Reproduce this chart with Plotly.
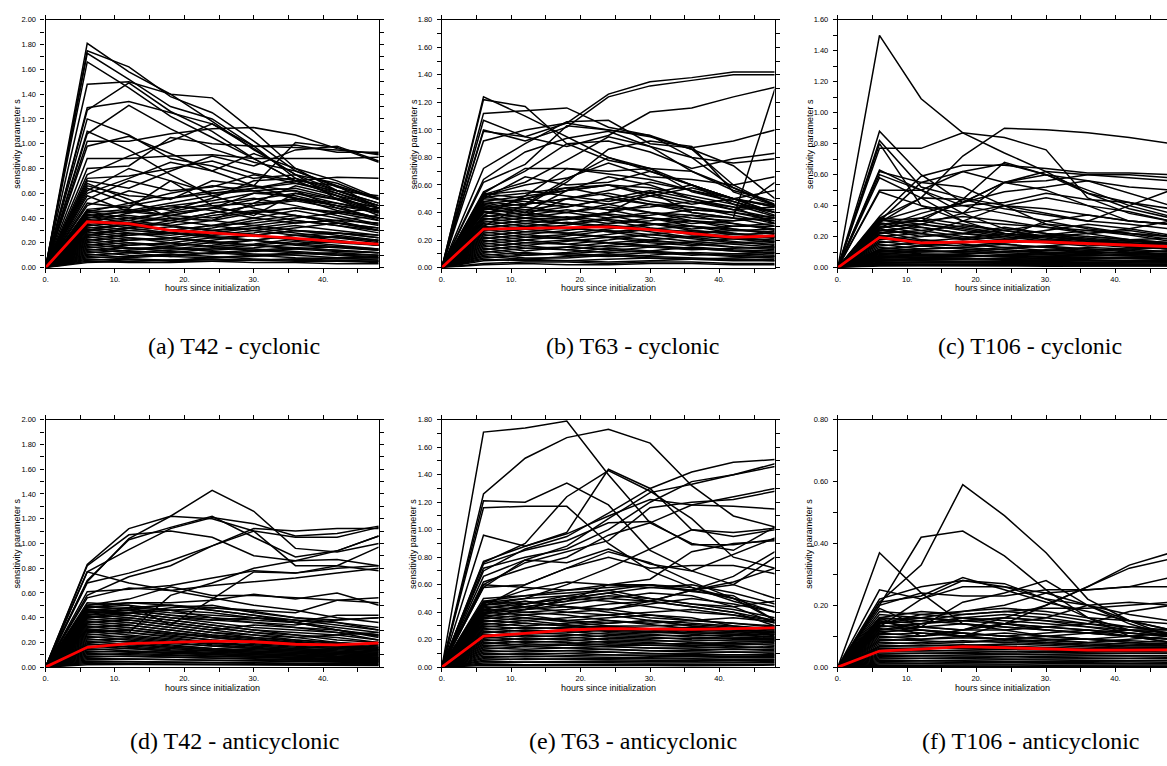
import plotly.graph_objects as go

# ---------------- data ----------------
HOURS = [0, 6, 12, 18, 24, 30, 36, 42, 48]
S_AT_INIT = 0.0
X_TICK_VALS = [0, 10, 20, 30, 40]
X_TICK_LABELS = ["0.", "10.", "20.", "30.", "40."]
CAPTIONS = ["(a) T42 - cyclonic", "(b) T63 - cyclonic", "(c) T106 - cyclonic",
            "(d) T42 - anticyclonic", "(e) T63 - anticyclonic", "(f) T106 - anticyclonic"]
X_TITLE = "hours since initialization"
Y_TITLE = "sensitivity parameter s"
Y_MAX = [2.0, 1.8, 1.6, 2.0, 1.8, 0.8]

# values at 6,12,...,48 h for each trajectory
T42_CYC = [
    [1.81, 1.58, 1.40, 1.37, 1.10, 0.80, 0.62, 0.52],
    [1.75, 1.62, 1.38, 1.25, 1.02, 0.78, 0.65, 0.55],
    [1.73, 1.52, 1.30, 1.20, 0.98, 0.72, 0.60, 0.48],
    [1.66, 1.45, 1.22, 1.05, 0.88, 0.70, 0.58, 0.45],
    [1.48, 1.50, 1.40, 1.18, 0.95, 0.75, 0.55, 0.42],
    [1.29, 1.34, 1.25, 1.16, 0.98, 0.97, 0.95, 0.92],
    [1.27, 1.49, 1.26, 1.10, 0.88, 0.70, 0.58, 0.50],
    [1.20, 1.07, 0.88, 0.82, 0.72, 0.75, 0.68, 0.55],
    [1.10, 0.95, 0.75, 0.58, 0.48, 0.42, 0.36, 0.30],
    [1.08, 1.31, 1.12, 0.96, 0.85, 0.78, 0.66, 0.56],
    [1.02, 1.02, 1.08, 1.12, 1.13, 1.07, 0.96, 0.91],
    [0.98, 1.06, 0.92, 0.78, 0.66, 0.56, 0.46, 0.40],
    [0.88, 0.88, 0.90, 0.91, 0.88, 0.88, 0.88, 0.89],
    [0.80, 0.82, 1.05, 1.00, 0.98, 0.99, 0.93, 0.93],
    [0.75, 0.90, 1.02, 1.16, 0.96, 0.75, 0.62, 0.50],
    [0.72, 0.74, 0.80, 0.86, 0.76, 0.70, 0.73, 0.72],
    [0.70, 0.64, 0.78, 0.90, 0.82, 0.95, 0.98, 0.86],
    [0.66, 0.58, 0.56, 0.62, 0.66, 1.01, 0.97, 0.85],
    [0.64, 0.52, 0.46, 0.56, 0.70, 0.72, 0.62, 0.52],
    [0.60, 0.72, 0.85, 0.78, 0.92, 0.80, 0.70, 0.56],
    [0.55, 0.70, 0.62, 0.65, 0.75, 0.68, 0.62, 0.58],
    [0.52, 0.48, 0.70, 0.60, 0.64, 0.70, 0.66, 0.48],
    [0.50, 0.62, 0.55, 0.70, 0.66, 0.62, 0.48, 0.40],
    [0.62, 0.80, 0.70, 0.50, 0.42, 0.60, 0.55, 0.45],
    [0.68, 0.55, 0.40, 0.38, 0.52, 0.66, 0.58, 0.44],
    [0.58, 0.45, 0.42, 0.48, 0.60, 0.58, 0.50, 0.38],
    [0.46, 0.44, 0.48, 0.50, 0.52, 0.55, 0.50, 0.44],
    [0.45, 0.40, 0.38, 0.44, 0.50, 0.56, 0.52, 0.46],
    [0.44, 0.47, 0.42, 0.40, 0.45, 0.48, 0.44, 0.38],
    [0.43, 0.38, 0.45, 0.52, 0.56, 0.50, 0.42, 0.35],
    [0.42, 0.45, 0.50, 0.46, 0.40, 0.36, 0.38, 0.42],
    [0.41, 0.36, 0.34, 0.38, 0.44, 0.48, 0.45, 0.40],
    [0.40, 0.42, 0.38, 0.34, 0.36, 0.40, 0.44, 0.48],
    [0.39, 0.34, 0.30, 0.34, 0.40, 0.46, 0.40, 0.34],
    [0.38, 0.40, 0.44, 0.48, 0.44, 0.38, 0.34, 0.30],
    [0.37, 0.32, 0.36, 0.42, 0.46, 0.42, 0.36, 0.32],
    [0.36, 0.38, 0.34, 0.30, 0.32, 0.36, 0.38, 0.36],
    [0.35, 0.30, 0.28, 0.32, 0.38, 0.42, 0.38, 0.30],
    [0.34, 0.36, 0.40, 0.38, 0.34, 0.30, 0.28, 0.26],
    [0.33, 0.28, 0.26, 0.30, 0.34, 0.38, 0.34, 0.28],
    [0.32, 0.34, 0.30, 0.26, 0.28, 0.32, 0.36, 0.32],
    [0.31, 0.26, 0.30, 0.34, 0.30, 0.26, 0.24, 0.22],
    [0.30, 0.32, 0.28, 0.24, 0.26, 0.30, 0.28, 0.24],
    [0.29, 0.24, 0.22, 0.26, 0.30, 0.34, 0.30, 0.26],
    [0.28, 0.30, 0.33, 0.30, 0.26, 0.22, 0.20, 0.18],
    [0.27, 0.22, 0.24, 0.28, 0.32, 0.28, 0.24, 0.20],
    [0.26, 0.28, 0.24, 0.20, 0.22, 0.26, 0.28, 0.24],
    [0.25, 0.20, 0.18, 0.22, 0.26, 0.30, 0.26, 0.22],
    [0.24, 0.26, 0.28, 0.25, 0.22, 0.19, 0.17, 0.15],
    [0.23, 0.18, 0.20, 0.24, 0.22, 0.18, 0.16, 0.14],
    [0.22, 0.24, 0.20, 0.17, 0.19, 0.23, 0.25, 0.21],
    [0.21, 0.16, 0.15, 0.18, 0.22, 0.26, 0.22, 0.18],
    [0.20, 0.22, 0.24, 0.21, 0.18, 0.16, 0.14, 0.12],
    [0.19, 0.15, 0.17, 0.20, 0.18, 0.15, 0.13, 0.12],
    [0.18, 0.20, 0.16, 0.14, 0.16, 0.19, 0.21, 0.18],
    [0.17, 0.13, 0.12, 0.15, 0.18, 0.21, 0.18, 0.15],
    [0.16, 0.18, 0.20, 0.17, 0.15, 0.13, 0.11, 0.10],
    [0.15, 0.12, 0.14, 0.16, 0.14, 0.12, 0.10, 0.09],
    [0.14, 0.16, 0.13, 0.11, 0.13, 0.15, 0.17, 0.14],
    [0.13, 0.10, 0.09, 0.12, 0.14, 0.16, 0.14, 0.12],
    [0.12, 0.14, 0.16, 0.13, 0.11, 0.10, 0.08, 0.08],
    [0.11, 0.08, 0.10, 0.12, 0.10, 0.08, 0.07, 0.07],
    [0.10, 0.12, 0.09, 0.08, 0.09, 0.11, 0.12, 0.10],
    [0.09, 0.07, 0.06, 0.08, 0.10, 0.12, 0.10, 0.08],
    [0.08, 0.09, 0.11, 0.09, 0.07, 0.06, 0.05, 0.05],
    [0.07, 0.05, 0.06, 0.07, 0.06, 0.05, 0.05, 0.04],
    [0.06, 0.07, 0.05, 0.05, 0.06, 0.07, 0.08, 0.06],
    [0.05, 0.04, 0.04, 0.05, 0.06, 0.07, 0.06, 0.05],
    [0.04, 0.05, 0.06, 0.05, 0.04, 0.04, 0.03, 0.03],
    [0.47, 0.50, 0.56, 0.60, 0.62, 0.64, 0.56, 0.48],
    [0.45, 0.52, 0.60, 0.66, 0.62, 0.56, 0.50, 0.46],
    [0.40, 0.46, 0.52, 0.58, 0.64, 0.68, 0.60, 0.50],
    [0.36, 0.44, 0.50, 0.54, 0.60, 0.62, 0.55, 0.48],
    [0.30, 0.36, 0.42, 0.48, 0.55, 0.60, 0.52, 0.45],
    [0.26, 0.32, 0.38, 0.44, 0.50, 0.54, 0.48, 0.40],
]
T42_CYC_MEAN = [0.37, 0.355, 0.30, 0.28, 0.26, 0.235, 0.21, 0.19]

T63_CYC = [
    [1.24, 1.10, 0.95, 0.80, 0.70, 0.60, 0.50, 0.45],
    [1.22, 1.17, 0.90, 0.78, 0.72, 0.55, 0.48, 0.40],
    [1.12, 1.14, 1.16, 1.02, 0.96, 0.86, 0.60, 0.45],
    [1.07, 0.95, 1.05, 1.26, 1.35, 1.38, 1.42, 1.42],
    [1.00, 0.92, 1.02, 1.24, 1.32, 1.36, 1.40, 1.40],
    [0.99, 0.95, 0.88, 0.96, 1.13, 1.16, 1.24, 1.31],
    [0.92, 1.00, 1.05, 1.00, 0.95, 0.86, 0.74, 0.50],
    [0.72, 0.90, 1.06, 1.07, 0.90, 0.87, 0.92, 1.00],
    [0.64, 0.84, 0.94, 0.99, 0.88, 0.80, 0.76, 0.79],
    [0.62, 0.75, 1.03, 1.00, 0.96, 0.80, 0.58, 0.45],
    [0.55, 0.70, 0.90, 0.92, 0.84, 0.72, 0.79, 0.83],
    [0.54, 0.72, 0.72, 0.70, 0.72, 0.70, 0.58, 0.46],
    [0.53, 0.62, 0.78, 0.95, 0.88, 0.70, 0.56, 0.48],
    [0.52, 0.60, 0.65, 0.76, 0.66, 0.64, 0.60, 0.66],
    [0.50, 0.66, 0.60, 0.62, 0.70, 0.60, 0.46, 0.37],
    [0.48, 0.45, 0.62, 0.86, 0.92, 0.88, 0.55, 0.45],
    [0.46, 0.40, 0.56, 0.66, 0.60, 0.50, 0.44, 0.32],
    [0.44, 0.38, 0.50, 0.54, 0.48, 0.44, 0.40, 0.62],
    [0.40, 0.36, 0.35, 0.40, 0.55, 0.40, 0.36, 1.30],
    [0.38, 0.52, 0.72, 0.68, 0.64, 0.56, 0.50, 0.44],
    [0.30, 0.46, 0.64, 0.80, 0.72, 0.60, 0.50, 0.40],
    [0.42, 0.50, 0.58, 0.60, 0.52, 0.46, 0.50, 0.56],
    [0.54, 0.50, 0.56, 0.60, 0.58, 0.52, 0.46, 0.40],
    [0.53, 0.56, 0.52, 0.48, 0.54, 0.60, 0.50, 0.44],
    [0.52, 0.46, 0.50, 0.56, 0.62, 0.56, 0.48, 0.38],
    [0.51, 0.54, 0.58, 0.52, 0.46, 0.42, 0.40, 0.36],
    [0.50, 0.48, 0.44, 0.50, 0.56, 0.50, 0.42, 0.44],
    [0.48, 0.52, 0.56, 0.60, 0.54, 0.48, 0.44, 0.42],
    [0.47, 0.42, 0.40, 0.46, 0.52, 0.58, 0.50, 0.40],
    [0.46, 0.50, 0.46, 0.42, 0.44, 0.48, 0.42, 0.36],
    [0.45, 0.40, 0.44, 0.50, 0.46, 0.40, 0.36, 0.34],
    [0.44, 0.46, 0.50, 0.46, 0.40, 0.36, 0.34, 0.38],
    [0.43, 0.38, 0.36, 0.40, 0.46, 0.44, 0.38, 0.32],
    [0.42, 0.44, 0.40, 0.36, 0.38, 0.42, 0.40, 0.34],
    [0.41, 0.36, 0.40, 0.44, 0.40, 0.34, 0.30, 0.30],
    [0.40, 0.42, 0.46, 0.42, 0.36, 0.32, 0.34, 0.36],
    [0.38, 0.34, 0.32, 0.36, 0.40, 0.38, 0.32, 0.28],
    [0.37, 0.40, 0.36, 0.32, 0.34, 0.38, 0.36, 0.30],
    [0.36, 0.32, 0.35, 0.39, 0.36, 0.30, 0.27, 0.26],
    [0.35, 0.38, 0.42, 0.38, 0.32, 0.28, 0.30, 0.32],
    [0.34, 0.30, 0.28, 0.32, 0.36, 0.34, 0.28, 0.25],
    [0.33, 0.36, 0.32, 0.29, 0.31, 0.34, 0.32, 0.27],
    [0.32, 0.28, 0.31, 0.35, 0.32, 0.27, 0.24, 0.23],
    [0.31, 0.34, 0.37, 0.34, 0.29, 0.25, 0.27, 0.28],
    [0.30, 0.26, 0.25, 0.28, 0.32, 0.30, 0.25, 0.22],
    [0.29, 0.32, 0.29, 0.26, 0.28, 0.30, 0.28, 0.24],
    [0.28, 0.24, 0.27, 0.31, 0.28, 0.24, 0.21, 0.20],
    [0.27, 0.30, 0.33, 0.30, 0.26, 0.22, 0.24, 0.25],
    [0.26, 0.22, 0.21, 0.24, 0.28, 0.26, 0.22, 0.19],
    [0.25, 0.28, 0.25, 0.22, 0.24, 0.27, 0.25, 0.21],
    [0.24, 0.20, 0.23, 0.27, 0.24, 0.21, 0.18, 0.17],
    [0.23, 0.26, 0.29, 0.26, 0.22, 0.19, 0.21, 0.22],
    [0.22, 0.18, 0.17, 0.20, 0.24, 0.22, 0.19, 0.16],
    [0.21, 0.24, 0.21, 0.18, 0.20, 0.23, 0.21, 0.18],
    [0.20, 0.16, 0.19, 0.22, 0.20, 0.17, 0.15, 0.14],
    [0.19, 0.22, 0.24, 0.22, 0.18, 0.16, 0.18, 0.19],
    [0.18, 0.14, 0.13, 0.16, 0.19, 0.18, 0.15, 0.13],
    [0.17, 0.20, 0.17, 0.15, 0.16, 0.19, 0.17, 0.15],
    [0.16, 0.12, 0.15, 0.18, 0.16, 0.14, 0.12, 0.11],
    [0.15, 0.18, 0.20, 0.18, 0.15, 0.13, 0.14, 0.15],
    [0.14, 0.10, 0.10, 0.12, 0.15, 0.14, 0.12, 0.10],
    [0.13, 0.16, 0.13, 0.11, 0.12, 0.15, 0.13, 0.12],
    [0.12, 0.09, 0.11, 0.14, 0.12, 0.10, 0.09, 0.08],
    [0.11, 0.14, 0.15, 0.13, 0.11, 0.09, 0.10, 0.11],
    [0.10, 0.07, 0.07, 0.09, 0.11, 0.10, 0.08, 0.07],
    [0.09, 0.11, 0.09, 0.08, 0.09, 0.11, 0.10, 0.09],
    [0.08, 0.06, 0.08, 0.10, 0.08, 0.07, 0.06, 0.06],
    [0.07, 0.09, 0.10, 0.09, 0.07, 0.06, 0.07, 0.08],
    [0.06, 0.05, 0.05, 0.06, 0.07, 0.06, 0.05, 0.05],
    [0.05, 0.06, 0.05, 0.04, 0.05, 0.06, 0.06, 0.05],
    [0.03, 0.04, 0.04, 0.03, 0.04, 0.04, 0.03, 0.03],
    [0.02, 0.03, 0.02, 0.02, 0.03, 0.03, 0.02, 0.02],
]
T63_CYC_MEAN = [0.28, 0.285, 0.29, 0.295, 0.275, 0.245, 0.22, 0.23]

T106_CYC = [
    [1.50, 1.09, 0.87, 0.74, 0.62, 0.48, 0.38, 0.32],
    [0.88, 0.60, 0.42, 0.55, 0.60, 0.56, 0.52, 0.50],
    [0.82, 0.52, 0.45, 0.40, 0.35, 0.30, 0.28, 0.25],
    [0.80, 0.40, 0.30, 0.28, 0.26, 0.24, 0.22, 0.20],
    [0.77, 0.77, 0.87, 0.84, 0.76, 0.45, 0.35, 0.30],
    [0.63, 0.50, 0.40, 0.35, 0.30, 0.25, 0.22, 0.20],
    [0.62, 0.55, 0.52, 0.40, 0.38, 0.34, 0.30, 0.28],
    [0.60, 0.50, 0.35, 0.25, 0.22, 0.20, 0.18, 0.16],
    [0.58, 0.45, 0.30, 0.22, 0.20, 0.18, 0.16, 0.14],
    [0.50, 0.50, 0.62, 0.67, 0.60, 0.50, 0.40, 0.33],
    [0.49, 0.40, 0.35, 0.55, 0.62, 0.60, 0.58, 0.56],
    [0.33, 0.59, 0.66, 0.66, 0.64, 0.61, 0.61, 0.60],
    [0.32, 0.45, 0.72, 0.90, 0.89, 0.87, 0.84, 0.80],
    [0.30, 0.55, 0.62, 0.55, 0.50, 0.40, 0.30, 0.28],
    [0.28, 0.30, 0.44, 0.68, 0.60, 0.48, 0.42, 0.35],
    [0.26, 0.35, 0.42, 0.55, 0.56, 0.60, 0.60, 0.58],
    [0.25, 0.32, 0.42, 0.49, 0.52, 0.56, 0.48, 0.40],
    [0.30, 0.38, 0.40, 0.42, 0.48, 0.44, 0.42, 0.38],
    [0.29, 0.45, 0.44, 0.38, 0.34, 0.30, 0.40, 0.50],
    [0.24, 0.22, 0.30, 0.40, 0.45, 0.40, 0.36, 0.30],
    [0.31, 0.28, 0.24, 0.20, 0.30, 0.34, 0.30, 0.28],
    [0.22, 0.28, 0.35, 0.40, 0.28, 0.22, 0.25, 0.30],
    [0.32, 0.30, 0.26, 0.22, 0.20, 0.18, 0.17, 0.15],
    [0.31, 0.26, 0.22, 0.24, 0.28, 0.26, 0.22, 0.18],
    [0.30, 0.32, 0.28, 0.24, 0.20, 0.17, 0.15, 0.14],
    [0.29, 0.24, 0.20, 0.18, 0.20, 0.22, 0.24, 0.20],
    [0.28, 0.30, 0.33, 0.30, 0.26, 0.22, 0.18, 0.16],
    [0.27, 0.22, 0.18, 0.20, 0.24, 0.28, 0.25, 0.21],
    [0.26, 0.28, 0.25, 0.21, 0.18, 0.16, 0.16, 0.14],
    [0.25, 0.20, 0.22, 0.26, 0.22, 0.18, 0.15, 0.13],
    [0.24, 0.26, 0.22, 0.19, 0.21, 0.24, 0.21, 0.17],
    [0.23, 0.18, 0.16, 0.18, 0.21, 0.19, 0.17, 0.16],
    [0.22, 0.24, 0.27, 0.24, 0.20, 0.17, 0.14, 0.12],
    [0.21, 0.17, 0.19, 0.22, 0.19, 0.16, 0.18, 0.19],
    [0.20, 0.22, 0.19, 0.16, 0.17, 0.20, 0.18, 0.15],
    [0.19, 0.15, 0.14, 0.16, 0.18, 0.16, 0.14, 0.12],
    [0.18, 0.20, 0.22, 0.20, 0.17, 0.15, 0.13, 0.12],
    [0.17, 0.14, 0.16, 0.18, 0.16, 0.14, 0.15, 0.16],
    [0.16, 0.18, 0.15, 0.13, 0.14, 0.16, 0.14, 0.12],
    [0.15, 0.12, 0.13, 0.15, 0.13, 0.12, 0.11, 0.10],
    [0.14, 0.16, 0.17, 0.15, 0.13, 0.11, 0.12, 0.13],
    [0.13, 0.11, 0.10, 0.12, 0.14, 0.12, 0.10, 0.09],
    [0.12, 0.14, 0.12, 0.10, 0.11, 0.13, 0.12, 0.10],
    [0.115, 0.10, 0.11, 0.13, 0.11, 0.10, 0.09, 0.085],
    [0.11, 0.12, 0.13, 0.115, 0.10, 0.09, 0.10, 0.11],
    [0.105, 0.09, 0.085, 0.10, 0.115, 0.105, 0.09, 0.08],
    [0.10, 0.11, 0.095, 0.085, 0.09, 0.10, 0.095, 0.085],
    [0.095, 0.08, 0.09, 0.105, 0.095, 0.08, 0.075, 0.07],
    [0.09, 0.10, 0.105, 0.095, 0.085, 0.075, 0.08, 0.085],
    [0.085, 0.075, 0.07, 0.08, 0.09, 0.085, 0.075, 0.065],
    [0.08, 0.085, 0.08, 0.07, 0.075, 0.08, 0.085, 0.075],
    [0.075, 0.065, 0.07, 0.08, 0.072, 0.065, 0.06, 0.058],
    [0.07, 0.075, 0.08, 0.072, 0.065, 0.06, 0.064, 0.068],
    [0.065, 0.058, 0.055, 0.062, 0.07, 0.066, 0.058, 0.052],
    [0.06, 0.066, 0.06, 0.054, 0.058, 0.062, 0.06, 0.055],
    [0.055, 0.05, 0.052, 0.058, 0.054, 0.05, 0.046, 0.044],
    [0.05, 0.055, 0.058, 0.052, 0.048, 0.044, 0.046, 0.05],
    [0.045, 0.042, 0.04, 0.044, 0.048, 0.045, 0.04, 0.038],
    [0.04, 0.044, 0.04, 0.037, 0.039, 0.042, 0.04, 0.036],
    [0.035, 0.032, 0.034, 0.037, 0.034, 0.031, 0.03, 0.029],
    [0.03, 0.033, 0.035, 0.031, 0.028, 0.027, 0.029, 0.03],
    [0.025, 0.023, 0.022, 0.025, 0.027, 0.025, 0.022, 0.021],
    [0.02, 0.022, 0.02, 0.018, 0.019, 0.021, 0.02, 0.018],
    [0.015, 0.014, 0.015, 0.017, 0.015, 0.013, 0.012, 0.012],
    [0.01, 0.011, 0.012, 0.01, 0.009, 0.009, 0.01, 0.01],
]
T106_CYC_MEAN = [0.195, 0.16, 0.165, 0.17, 0.165, 0.155, 0.145, 0.135]

T42_ANT = [
    [0.83, 1.12, 1.22, 1.43, 1.26, 0.96, 0.93, 1.00],
    [0.82, 1.07, 1.10, 1.05, 0.90, 0.86, 0.87, 0.82],
    [0.77, 0.95, 1.12, 1.21, 1.16, 1.06, 1.08, 1.14],
    [0.70, 1.03, 1.13, 1.22, 1.05, 0.89, 0.94, 1.06],
    [0.69, 1.04, 1.22, 1.20, 1.10, 1.05, 1.05, 1.13],
    [0.68, 0.76, 0.86, 0.98, 1.12, 1.10, 1.12, 1.12],
    [0.58, 0.73, 0.82, 0.98, 1.10, 0.82, 0.82, 0.78],
    [0.77, 0.68, 0.62, 0.56, 0.50, 0.46, 0.40, 0.36],
    [0.61, 0.63, 0.66, 0.72, 0.78, 0.76, 0.82, 0.97],
    [0.56, 0.64, 0.62, 0.66, 0.69, 0.72, 0.76, 0.80],
    [0.50, 0.55, 0.65, 0.58, 0.58, 0.56, 0.54, 0.52],
    [0.52, 0.50, 0.34, 0.55, 0.77, 0.76, 0.80, 0.82],
    [0.30, 0.28, 0.58, 0.68, 0.80, 0.86, 0.94, 1.06],
    [0.50, 0.52, 0.52, 0.54, 0.59, 0.55, 0.60, 0.50],
    [0.48, 0.52, 0.50, 0.48, 0.46, 0.44, 0.54, 0.56],
    [0.46, 0.48, 0.46, 0.44, 0.40, 0.38, 0.36, 0.30],
    [0.45, 0.46, 0.42, 0.40, 0.38, 0.36, 0.42, 0.42],
    [0.44, 0.44, 0.48, 0.50, 0.44, 0.40, 0.38, 0.40],
    [0.42, 0.48, 0.50, 0.46, 0.42, 0.36, 0.30, 0.25],
    [0.40, 0.44, 0.46, 0.48, 0.45, 0.40, 0.36, 0.32],
    [0.49, 0.47, 0.44, 0.42, 0.40, 0.36, 0.32, 0.28],
    [0.48, 0.50, 0.46, 0.40, 0.36, 0.32, 0.30, 0.26],
    [0.47, 0.44, 0.40, 0.38, 0.36, 0.34, 0.38, 0.40],
    [0.46, 0.48, 0.50, 0.46, 0.42, 0.38, 0.34, 0.30],
    [0.45, 0.42, 0.38, 0.34, 0.30, 0.28, 0.26, 0.22],
    [0.44, 0.46, 0.42, 0.38, 0.40, 0.36, 0.30, 0.24],
    [0.43, 0.40, 0.36, 0.32, 0.28, 0.26, 0.24, 0.20],
    [0.42, 0.44, 0.40, 0.36, 0.32, 0.30, 0.28, 0.26],
    [0.41, 0.38, 0.34, 0.30, 0.34, 0.32, 0.28, 0.22],
    [0.40, 0.42, 0.38, 0.34, 0.30, 0.26, 0.22, 0.20],
    [0.39, 0.36, 0.32, 0.28, 0.26, 0.24, 0.26, 0.28],
    [0.38, 0.40, 0.36, 0.32, 0.28, 0.24, 0.20, 0.18],
    [0.37, 0.34, 0.30, 0.26, 0.24, 0.22, 0.20, 0.17],
    [0.36, 0.38, 0.34, 0.30, 0.26, 0.22, 0.19, 0.16],
    [0.35, 0.32, 0.28, 0.25, 0.22, 0.20, 0.18, 0.15],
    [0.34, 0.36, 0.32, 0.28, 0.24, 0.21, 0.18, 0.16],
    [0.33, 0.30, 0.27, 0.24, 0.21, 0.19, 0.17, 0.15],
    [0.32, 0.34, 0.30, 0.26, 0.23, 0.20, 0.17, 0.14],
    [0.31, 0.28, 0.25, 0.22, 0.20, 0.18, 0.16, 0.14],
    [0.30, 0.32, 0.28, 0.24, 0.21, 0.18, 0.16, 0.14],
    [0.29, 0.26, 0.23, 0.20, 0.18, 0.16, 0.15, 0.13],
    [0.28, 0.30, 0.26, 0.22, 0.19, 0.17, 0.15, 0.13],
    [0.27, 0.24, 0.21, 0.19, 0.17, 0.15, 0.14, 0.12],
    [0.26, 0.28, 0.24, 0.20, 0.17, 0.15, 0.13, 0.12],
    [0.25, 0.22, 0.19, 0.17, 0.15, 0.14, 0.13, 0.11],
    [0.24, 0.25, 0.22, 0.18, 0.16, 0.14, 0.12, 0.11],
    [0.23, 0.20, 0.17, 0.15, 0.14, 0.13, 0.12, 0.10],
    [0.22, 0.23, 0.20, 0.17, 0.15, 0.13, 0.11, 0.10],
    [0.21, 0.18, 0.16, 0.14, 0.13, 0.12, 0.11, 0.09],
    [0.20, 0.21, 0.18, 0.15, 0.13, 0.12, 0.10, 0.09],
    [0.19, 0.16, 0.14, 0.13, 0.12, 0.11, 0.10, 0.08],
    [0.18, 0.19, 0.16, 0.14, 0.12, 0.11, 0.09, 0.08],
    [0.17, 0.15, 0.13, 0.12, 0.11, 0.10, 0.09, 0.075],
    [0.16, 0.17, 0.15, 0.13, 0.11, 0.10, 0.085, 0.07],
    [0.15, 0.13, 0.12, 0.11, 0.10, 0.09, 0.08, 0.07],
    [0.14, 0.15, 0.13, 0.11, 0.10, 0.09, 0.075, 0.065],
    [0.13, 0.12, 0.11, 0.10, 0.09, 0.08, 0.07, 0.06],
    [0.12, 0.13, 0.115, 0.10, 0.085, 0.075, 0.065, 0.06],
    [0.11, 0.10, 0.09, 0.085, 0.08, 0.07, 0.06, 0.055],
    [0.10, 0.11, 0.10, 0.09, 0.075, 0.065, 0.06, 0.05],
    [0.09, 0.085, 0.08, 0.07, 0.065, 0.06, 0.055, 0.045],
    [0.08, 0.09, 0.08, 0.07, 0.06, 0.055, 0.05, 0.045],
    [0.07, 0.065, 0.06, 0.055, 0.05, 0.045, 0.04, 0.04],
    [0.06, 0.065, 0.06, 0.05, 0.045, 0.04, 0.035, 0.035],
    [0.05, 0.045, 0.04, 0.038, 0.035, 0.032, 0.03, 0.028],
    [0.04, 0.042, 0.038, 0.034, 0.03, 0.028, 0.026, 0.024],
    [0.03, 0.028, 0.026, 0.024, 0.022, 0.02, 0.019, 0.018],
    [0.02, 0.021, 0.019, 0.017, 0.016, 0.015, 0.014, 0.013],
]
T42_ANT_MEAN = [0.16, 0.19, 0.20, 0.21, 0.205, 0.185, 0.18, 0.195]

T63_ANT = [
    [1.71, 1.74, 1.79, 1.40, 1.05, 0.90, 0.85, 1.02],
    [1.26, 1.52, 1.67, 1.73, 1.63, 1.32, 1.10, 1.02],
    [1.21, 1.20, 1.34, 1.18, 0.85, 0.70, 0.60, 0.50],
    [1.16, 1.17, 1.17, 0.90, 0.70, 0.58, 0.48, 0.40],
    [0.96, 0.88, 0.98, 1.44, 1.30, 1.00, 0.95, 1.00],
    [0.77, 0.88, 0.97, 1.10, 1.22, 1.18, 1.17, 1.15],
    [0.76, 0.90, 1.24, 1.43, 1.28, 1.08, 0.80, 0.72],
    [0.75, 0.85, 0.92, 1.05, 1.06, 0.89, 0.89, 0.93],
    [0.72, 0.80, 0.86, 1.00, 1.20, 1.35, 1.40, 1.48],
    [0.70, 0.86, 0.95, 1.12, 1.30, 1.42, 1.49, 1.51],
    [0.66, 0.78, 0.88, 1.08, 1.27, 1.33, 1.40, 1.46],
    [0.62, 0.72, 0.80, 0.96, 1.05, 1.18, 1.24, 1.30],
    [0.60, 0.76, 0.84, 0.92, 1.16, 1.20, 1.22, 1.28],
    [0.58, 0.78, 0.76, 0.86, 0.75, 0.70, 0.82, 0.94],
    [0.58, 0.60, 0.72, 0.80, 0.72, 0.74, 0.74, 0.68],
    [0.46, 0.56, 0.62, 0.60, 0.64, 0.84, 0.90, 0.92],
    [0.45, 0.50, 0.60, 0.72, 0.86, 1.00, 0.98, 1.01],
    [0.44, 0.60, 0.72, 0.84, 0.76, 0.62, 0.50, 0.40],
    [0.40, 0.44, 0.48, 0.60, 0.58, 0.56, 0.60, 0.80],
    [0.38, 0.46, 0.52, 0.56, 0.60, 0.58, 0.50, 0.34],
    [0.36, 0.42, 0.50, 0.54, 0.48, 0.56, 0.62, 0.72],
    [0.60, 0.58, 0.56, 0.60, 0.60, 0.55, 0.52, 0.34],
    [0.48, 0.52, 0.54, 0.56, 0.50, 0.46, 0.44, 0.48],
    [0.42, 0.48, 0.44, 0.42, 0.48, 0.56, 0.66, 0.84],
    [0.50, 0.52, 0.56, 0.58, 0.60, 0.56, 0.50, 0.44],
    [0.48, 0.46, 0.50, 0.54, 0.58, 0.60, 0.54, 0.46],
    [0.47, 0.50, 0.52, 0.50, 0.48, 0.44, 0.40, 0.34],
    [0.46, 0.44, 0.48, 0.52, 0.50, 0.46, 0.42, 0.36],
    [0.45, 0.48, 0.44, 0.42, 0.46, 0.50, 0.46, 0.40],
    [0.44, 0.42, 0.46, 0.50, 0.54, 0.52, 0.44, 0.32],
    [0.43, 0.46, 0.50, 0.48, 0.44, 0.40, 0.38, 0.34],
    [0.42, 0.40, 0.42, 0.46, 0.48, 0.44, 0.40, 0.30],
    [0.41, 0.44, 0.40, 0.38, 0.40, 0.42, 0.38, 0.32],
    [0.40, 0.38, 0.40, 0.42, 0.38, 0.34, 0.32, 0.30],
    [0.39, 0.42, 0.44, 0.40, 0.36, 0.34, 0.36, 0.33],
    [0.38, 0.36, 0.34, 0.36, 0.38, 0.36, 0.30, 0.27],
    [0.37, 0.40, 0.38, 0.34, 0.32, 0.34, 0.32, 0.29],
    [0.36, 0.34, 0.36, 0.38, 0.34, 0.30, 0.28, 0.26],
    [0.35, 0.38, 0.34, 0.32, 0.34, 0.32, 0.30, 0.28],
    [0.34, 0.32, 0.30, 0.32, 0.34, 0.30, 0.27, 0.25],
    [0.33, 0.36, 0.33, 0.30, 0.30, 0.31, 0.29, 0.27],
    [0.32, 0.30, 0.32, 0.34, 0.31, 0.28, 0.26, 0.24],
    [0.31, 0.34, 0.31, 0.28, 0.28, 0.29, 0.27, 0.26],
    [0.30, 0.28, 0.29, 0.30, 0.28, 0.26, 0.25, 0.23],
    [0.29, 0.32, 0.30, 0.27, 0.26, 0.27, 0.26, 0.25],
    [0.28, 0.26, 0.27, 0.29, 0.27, 0.25, 0.24, 0.22],
    [0.27, 0.29, 0.28, 0.26, 0.25, 0.25, 0.24, 0.24],
    [0.26, 0.24, 0.25, 0.27, 0.26, 0.24, 0.22, 0.21],
    [0.25, 0.27, 0.26, 0.24, 0.23, 0.23, 0.23, 0.22],
    [0.24, 0.22, 0.23, 0.25, 0.24, 0.22, 0.21, 0.20],
    [0.23, 0.25, 0.24, 0.22, 0.21, 0.21, 0.21, 0.21],
    [0.22, 0.20, 0.21, 0.23, 0.22, 0.20, 0.19, 0.19],
    [0.21, 0.23, 0.22, 0.20, 0.19, 0.19, 0.20, 0.20],
    [0.20, 0.18, 0.19, 0.21, 0.20, 0.18, 0.17, 0.18],
    [0.19, 0.21, 0.20, 0.18, 0.17, 0.17, 0.18, 0.19],
    [0.18, 0.16, 0.17, 0.19, 0.18, 0.16, 0.16, 0.17],
    [0.17, 0.19, 0.18, 0.16, 0.16, 0.16, 0.17, 0.16],
    [0.16, 0.15, 0.16, 0.17, 0.16, 0.15, 0.14, 0.15],
    [0.15, 0.17, 0.16, 0.15, 0.14, 0.14, 0.15, 0.14],
    [0.14, 0.13, 0.14, 0.15, 0.14, 0.13, 0.13, 0.13],
    [0.13, 0.15, 0.14, 0.13, 0.12, 0.12, 0.13, 0.12],
    [0.12, 0.11, 0.12, 0.13, 0.12, 0.11, 0.11, 0.11],
    [0.11, 0.12, 0.12, 0.11, 0.10, 0.10, 0.11, 0.10],
    [0.10, 0.09, 0.10, 0.11, 0.10, 0.09, 0.09, 0.09],
    [0.09, 0.10, 0.10, 0.09, 0.085, 0.085, 0.09, 0.085],
    [0.08, 0.075, 0.08, 0.09, 0.08, 0.075, 0.075, 0.075],
    [0.07, 0.08, 0.075, 0.07, 0.065, 0.065, 0.07, 0.068],
    [0.06, 0.055, 0.06, 0.065, 0.06, 0.055, 0.055, 0.058],
    [0.05, 0.06, 0.055, 0.05, 0.05, 0.048, 0.05, 0.05],
    [0.04, 0.038, 0.04, 0.045, 0.04, 0.038, 0.038, 0.04],
    [0.03, 0.035, 0.032, 0.03, 0.03, 0.03, 0.032, 0.032],
    [0.02, 0.018, 0.02, 0.022, 0.02, 0.018, 0.018, 0.02],
    [0.012, 0.01, 0.012, 0.015, 0.012, 0.01, 0.012, 0.015],
]
T63_ANT_MEAN = [0.225, 0.245, 0.27, 0.28, 0.275, 0.275, 0.28, 0.285]

T106_ANT = [
    [0.37, 0.24, 0.14, 0.12, 0.10, 0.09, 0.08, 0.07],
    [0.25, 0.22, 0.26, 0.26, 0.22, 0.20, 0.15, 0.12],
    [0.21, 0.33, 0.59, 0.49, 0.37, 0.22, 0.15, 0.10],
    [0.20, 0.42, 0.44, 0.36, 0.25, 0.16, 0.10, 0.08],
    [0.22, 0.26, 0.28, 0.27, 0.22, 0.16, 0.12, 0.10],
    [0.21, 0.23, 0.29, 0.25, 0.21, 0.18, 0.15, 0.12],
    [0.20, 0.24, 0.23, 0.23, 0.25, 0.25, 0.26, 0.26],
    [0.19, 0.13, 0.21, 0.24, 0.28, 0.20, 0.14, 0.10],
    [0.16, 0.10, 0.12, 0.16, 0.20, 0.26, 0.33, 0.37],
    [0.15, 0.12, 0.10, 0.14, 0.20, 0.26, 0.32, 0.35],
    [0.14, 0.16, 0.18, 0.20, 0.24, 0.25, 0.26, 0.29],
    [0.13, 0.22, 0.28, 0.26, 0.24, 0.20, 0.17, 0.15],
    [0.16, 0.18, 0.17, 0.18, 0.19, 0.19, 0.20, 0.21],
    [0.17, 0.16, 0.15, 0.16, 0.15, 0.14, 0.18, 0.20],
    [0.14, 0.17, 0.18, 0.19, 0.18, 0.16, 0.15, 0.14],
    [0.12, 0.14, 0.16, 0.15, 0.14, 0.13, 0.12, 0.11],
    [0.18, 0.17, 0.16, 0.14, 0.12, 0.11, 0.10, 0.09],
    [0.11, 0.13, 0.12, 0.14, 0.16, 0.20, 0.21, 0.20],
    [0.16, 0.15, 0.14, 0.13, 0.12, 0.11, 0.10, 0.09],
    [0.155, 0.16, 0.15, 0.14, 0.13, 0.12, 0.11, 0.10],
    [0.15, 0.14, 0.16, 0.17, 0.16, 0.14, 0.12, 0.10],
    [0.145, 0.13, 0.12, 0.12, 0.13, 0.14, 0.13, 0.12],
    [0.14, 0.15, 0.17, 0.18, 0.17, 0.15, 0.13, 0.11],
    [0.135, 0.12, 0.11, 0.10, 0.11, 0.12, 0.11, 0.10],
    [0.13, 0.14, 0.15, 0.16, 0.15, 0.13, 0.11, 0.10],
    [0.125, 0.11, 0.10, 0.09, 0.10, 0.11, 0.12, 0.12],
    [0.12, 0.13, 0.14, 0.13, 0.12, 0.11, 0.10, 0.09],
    [0.115, 0.12, 0.11, 0.10, 0.09, 0.09, 0.10, 0.11],
    [0.11, 0.10, 0.12, 0.14, 0.13, 0.12, 0.10, 0.08],
    [0.105, 0.11, 0.10, 0.09, 0.085, 0.08, 0.09, 0.10],
    [0.10, 0.09, 0.10, 0.11, 0.10, 0.09, 0.085, 0.08],
    [0.095, 0.10, 0.11, 0.10, 0.09, 0.08, 0.075, 0.07],
    [0.09, 0.085, 0.08, 0.09, 0.10, 0.09, 0.08, 0.075],
    [0.085, 0.09, 0.095, 0.09, 0.08, 0.075, 0.07, 0.07],
    [0.08, 0.075, 0.08, 0.085, 0.08, 0.07, 0.065, 0.065],
    [0.075, 0.08, 0.085, 0.08, 0.075, 0.07, 0.07, 0.068],
    [0.07, 0.068, 0.07, 0.075, 0.07, 0.065, 0.06, 0.06],
    [0.066, 0.07, 0.072, 0.068, 0.064, 0.06, 0.062, 0.064],
    [0.062, 0.06, 0.064, 0.066, 0.062, 0.058, 0.056, 0.058],
    [0.058, 0.062, 0.06, 0.058, 0.056, 0.055, 0.057, 0.06],
    [0.054, 0.052, 0.055, 0.058, 0.055, 0.052, 0.05, 0.052],
    [0.05, 0.054, 0.052, 0.05, 0.05, 0.05, 0.052, 0.054],
    [0.046, 0.045, 0.048, 0.05, 0.047, 0.045, 0.045, 0.046],
    [0.042, 0.045, 0.044, 0.042, 0.042, 0.043, 0.044, 0.045],
    [0.038, 0.037, 0.04, 0.042, 0.04, 0.038, 0.037, 0.038],
    [0.034, 0.036, 0.035, 0.034, 0.035, 0.036, 0.036, 0.036],
    [0.03, 0.029, 0.031, 0.033, 0.031, 0.029, 0.029, 0.03],
    [0.026, 0.028, 0.027, 0.026, 0.026, 0.027, 0.028, 0.028],
    [0.022, 0.021, 0.023, 0.024, 0.023, 0.021, 0.021, 0.022],
    [0.018, 0.02, 0.019, 0.018, 0.018, 0.019, 0.02, 0.02],
    [0.014, 0.013, 0.015, 0.016, 0.015, 0.013, 0.013, 0.014],
    [0.01, 0.011, 0.01, 0.01, 0.011, 0.011, 0.01, 0.011],
    [0.006, 0.006, 0.007, 0.007, 0.006, 0.006, 0.006, 0.007],
    [0.003, 0.003, 0.003, 0.004, 0.004, 0.003, 0.003, 0.003],
]
T106_ANT_MEAN = [0.052, 0.058, 0.066, 0.063, 0.058, 0.055, 0.055, 0.056]

PANELS = [
    (T42_CYC, T42_CYC_MEAN), (T63_CYC, T63_CYC_MEAN), (T106_CYC, T106_CYC_MEAN),
    (T42_ANT, T42_ANT_MEAN), (T63_ANT, T63_ANT_MEAN), (T106_ANT, T106_ANT_MEAN),
]

# ---------------- layout (pixels) ----------------
W, H = 1167, 766
COL_LEFT = [42.7, 440.0, 837.0]
COL_RIGHT = [376.7, 773.5, 1167.0]
ROW_TOP = [16.0, 420.7]
ROW_BOTTOM = [266.7, 671.0]
PX_PER_HOUR = (376.7 - 42.7) / 48.0
CAPTION_X = [232, 632, 1030]
CAPTION_Y = [346, 746]

TICK_FONT = dict(family="Liberation Sans, Arial, sans-serif", size=7.5, color="black")
TITLE_FONT = dict(family="Liberation Sans, Arial, sans-serif", size=9, color="black")
CAP_FONT = dict(family="Liberation Serif, Times New Roman, serif", size=24, color="black")

fig = go.Figure()
layout = dict(width=W, height=H, margin=dict(l=0, r=0, t=0, b=0),
              paper_bgcolor="white", plot_bgcolor="white", showlegend=False)
annotations = []

for i, (lines, mean) in enumerate(PANELS):
    r, c = divmod(i, 3)
    n = i + 1
    xs, ys = [], []
    for ln in lines:
        xs += HOURS + [None]
        ys += [S_AT_INIT] + ln + [None]
    xa = "x" if n == 1 else f"x{n}"
    ya = "y" if n == 1 else f"y{n}"
    fig.add_trace(go.Scatter(x=xs, y=ys, mode="lines", xaxis=xa, yaxis=ya,
                             line=dict(color="black", width=1.5), hoverinfo="skip"))
    fig.add_trace(go.Scatter(x=HOURS, y=[S_AT_INIT] + mean, mode="lines", xaxis=xa, yaxis=ya,
                             line=dict(color="#ff0000", width=2.8), hoverinfo="skip"))

    left, right = COL_LEFT[c], COL_RIGHT[c]
    top, bottom = ROW_TOP[r], ROW_BOTTOM[r]
    xmax = (right - left) / PX_PER_HOUR
    clipped = c == 2
    common = dict(showline=True, linecolor="black", linewidth=1.2, showgrid=False, zeroline=False,
                  ticks="outside", ticklen=4, tickwidth=1.2, tickcolor="black", tickfont=TICK_FONT)
    xkey = "xaxis" if n == 1 else f"xaxis{n}"
    ykey = "yaxis" if n == 1 else f"yaxis{n}"
    layout[xkey] = dict(common, domain=[left / W, right / W], range=[0, xmax], anchor=ya,
                        tickvals=X_TICK_VALS, ticktext=X_TICK_LABELS, mirror="ticks",
                        minor=dict(dtick=5, tick0=0, ticks="outside", ticklen=4, tickcolor="black",
                                   tickwidth=1.2, showgrid=False))
    layout[ykey] = dict(common, domain=[1 - bottom / H, 1 - top / H], range=[0, Y_MAX[i]], anchor=xa,
                        dtick=0.2, tick0=0, tickformat=".2f",
                        mirror=(False if clipped else "ticks"), ticklabelstandoff=3,
                        minor=dict(dtick=0.1, tick0=0, ticks="outside", ticklen=4, tickcolor="black",
                                   tickwidth=1.2, showgrid=False))
    # axis titles
    annotations.append(dict(text=X_TITLE, xref="paper", yref="paper",
                            x=((left + min(right, left + 48 * PX_PER_HOUR)) / 2) / W,
                            y=1 - (bottom + 21) / H, showarrow=False, font=TITLE_FONT,
                            xanchor="center", yanchor="middle"))
    annotations.append(dict(text=Y_TITLE, xref="paper", yref="paper",
                            x=(left - 28.5) / W, y=1 - ((top + bottom) / 2) / H, textangle=-90,
                            showarrow=False, font=TITLE_FONT, xanchor="center", yanchor="middle"))
    annotations.append(dict(text=CAPTIONS[i], xref="paper", yref="paper",
                            x=CAPTION_X[c] / W, y=1 - CAPTION_Y[r] / H, showarrow=False,
                            font=CAP_FONT, xanchor="center", yanchor="middle"))

layout["annotations"] = annotations
fig.update_layout(**layout)
fig.write_html("out.html")
